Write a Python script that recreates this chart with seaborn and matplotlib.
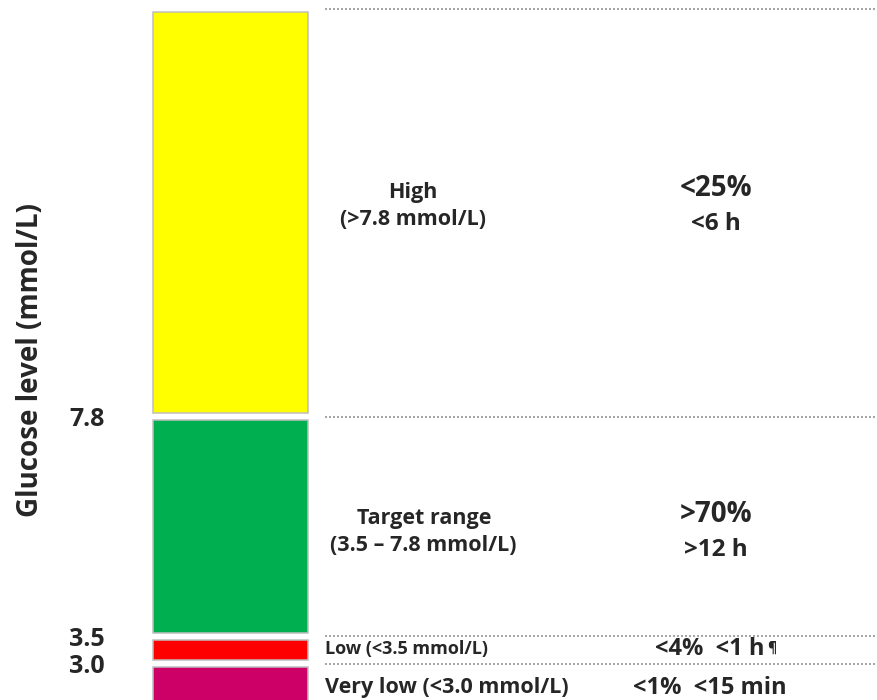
import matplotlib
matplotlib.use("Agg")
import matplotlib.pyplot as plt
import seaborn as sns
import numpy as np
from matplotlib.transforms import blended_transform_factory

# glucose zones, bottom to top. the chart is a schematic so band sizes
# are display units, not mmol/L
zones = ["Very low", "Low", "Target range", "High"]
band_heights = [56.5, 27.5, 219.5, 408]
zone_colors = ["#CC0066", "#FF0000", "#00B050", "#FFFF00"]
threshold_labels = ["3.0", "3.5", "7.8"]
zone_names = ["Very low (<3.0 mmol/L)", "Low (<3.5 mmol/L)",
              "Target range\n(3.5 \u2013 7.8 mmol/L)", "High\n(>7.8 mmol/L)"]
time_pct = ["<1%", "<4%", ">70%", "<25%"]
time_hours = ["<15 min", "<1 h", ">12 h", "<6 h"]
footnote = ["", "\u00b6", "", ""]

sns.set_theme(style="white")
plt.rcParams['font.family'] = ['Open Sans', 'DejaVu Sans']
plt.rcParams['font.weight'] = 'bold'

baseline = -20
gap = 7
bottoms = baseline + np.concatenate([[0], np.cumsum(band_heights)[:-1]])
tops = bottoms + np.array(band_heights)

fig = plt.figure(figsize=(8.77, 7), dpi=100)
ax = fig.add_axes([110 / 877, 0, 767 / 877, 1])

for i, z in enumerate(zones):
    sns.barplot(x=["glucose"], y=[band_heights[i] - gap], bottom=bottoms[i] + gap / 2,
                color=zone_colors[i], saturation=1, errorbar=None,
                edgecolor="#bfbfbf", linewidth=1.1, ax=ax)

# dotted separators at the top of each band
for t in tops:
    ax.axhline(t, xmin=0.28, xmax=1, color="#a6a6a6", lw=1.44, ls=(0, (1, 1)))

ax.set_xlim(-0.622, 3.337)
ax.set_ylim(0, 700)
ax.set_yticks(tops[:3])
ax.set_yticklabels(threshold_labels, fontsize=18, fontweight='bold')
ax.tick_params(axis='y', length=0, pad=4)
ax.set_xticks([])
ax.set_xlabel("")
ax.set_ylabel("Glucose level (mmol/L)", fontsize=20, fontweight='bold')
ax.yaxis.set_label_coords(-0.085, 0.486)
sns.despine(ax=ax, left=True, bottom=True)

trans = blended_transform_factory(ax.transAxes, ax.transData)
label_y = [12, 51, 168, 494]
name_size = [15.5, 13, 15.5, 15.5]
for i in range(len(zones)):
    y = label_y[i]
    if "\n" in zone_names[i]:
        ax.text(0.409 if i == 2 else 0.395, y, zone_names[i], transform=trans,
                ha="center", va="center", fontsize=name_size[i], linespacing=1.4)
        ax.text(0.790, y + 18, time_pct[i], transform=trans,
                ha="center", va="center", fontsize=20)
        ax.text(0.790, y - 18, time_hours[i], transform=trans,
                ha="center", va="center", fontsize=17.5)
    else:
        ax.text(0.280, y, zone_names[i], transform=trans,
                ha="left", va="center", fontsize=name_size[i])
        t = ax.text(0.782, y, time_pct[i] + "  " + time_hours[i], transform=trans,
                    ha="center", va="center", fontsize=17)
        if footnote[i]:
            ax.annotate(footnote[i], xy=(1, 1), xycoords=t, xytext=(2, -3),
                        textcoords="offset points", ha="left", va="top", fontsize=10)

fig.savefig("out.png", dpi=100)
